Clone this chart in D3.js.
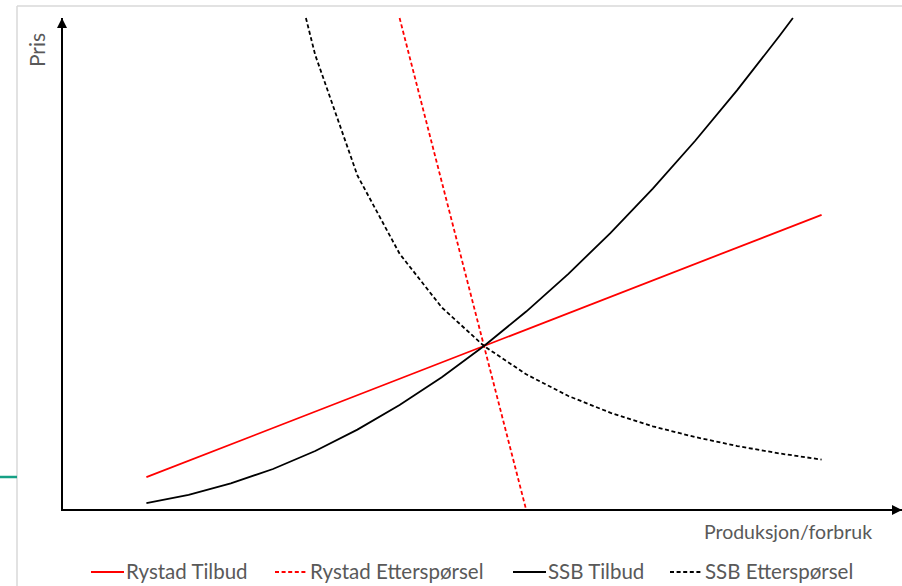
<!DOCTYPE html>
<html>
<head>
<meta charset="utf-8">
<script src="https://cdn.jsdelivr.net/npm/d3@7"></script>
<style>
  html, body { margin: 0; padding: 0; background: #fff; }
  svg { display: block; }
  text { font-family: Lato, "Open Sans", sans-serif; fill: #595959; }
</style>
</head>
<body>
<svg id="chart" width="902" height="586"></svg>
<script>
// Quantity (x) and price (y) in arbitrary units
const rystadSupplyX = [2, 18];
const rystadSupplyY = [8, 72];

const rystadDemandX = [8, 11];
const rystadDemandY = [120, 0];

const ssbSupplyX = [2, 3, 4, 5, 6, 7, 8, 9, 10, 11, 12, 13, 14, 15, 16, 17, 17.32];
const ssbSupplyY = [1.7, 3.7, 6.5, 10, 14.4, 19.6, 25.6, 32.4, 40, 48.4, 57.6, 67.6, 78.4, 90, 102.4, 115.6, 120];

const ssbDemandX = [5.78, 6, 7, 8, 9, 10, 11, 12, 13, 14, 15, 16, 17, 18];
const ssbDemandY = [120, 111, 81.6, 62.5, 49.4, 40, 33.1, 27.8, 23.7, 20.4, 17.8, 15.6, 13.8, 12.3];

const seriesNames = ["Rystad Tilbud", "Rystad Etterspørsel", "SSB Tilbud", "SSB Etterspørsel"];
const axisLabels = { x: "Produksjon/forbruk", y: "Pris" };

const svg = d3.select("#chart");

const x = d3.scaleLinear().domain([0, 20]).range([62, 906]);
const y = d3.scaleLinear().domain([0, 120]).range([510, 18]);

// Slide frame
svg.append("line").attr("x1", 17).attr("x2", 902).attr("y1", 6).attr("y2", 6)
  .attr("stroke", "#d9d9d9").attr("stroke-width", 1.5);
svg.append("line").attr("x1", 17).attr("x2", 17).attr("y1", 6).attr("y2", 586)
  .attr("stroke", "#d9d9d9").attr("stroke-width", 1.5);
svg.append("line").attr("x1", 0).attr("x2", 17).attr("y1", 477).attr("y2", 477)
  .attr("stroke", "#16a085").attr("stroke-width", 2.5);

// Arrow marker
svg.append("defs").append("marker")
  .attr("id", "arrow")
  .attr("viewBox", "0 0 10 10")
  .attr("refX", 10).attr("refY", 5)
  .attr("markerWidth", 5).attr("markerHeight", 5)
  .attr("markerUnits", "strokeWidth")
  .attr("orient", "auto")
  .append("path").attr("d", "M0,0 L10,5 L0,10 Z").attr("fill", "#000");

// Axes
svg.append("line")
  .attr("x1", x(0)).attr("y1", y(0)).attr("x2", x(0)).attr("y2", 18)
  .attr("stroke", "#000").attr("stroke-width", 2).attr("marker-end", "url(#arrow)");
svg.append("line")
  .attr("x1", x(0) - 1).attr("y1", y(0)).attr("x2", 902).attr("y2", y(0))
  .attr("stroke", "#000").attr("stroke-width", 2).attr("marker-end", "url(#arrow)");

svg.append("text")
  .attr("transform", `translate(45,50) rotate(-90)`)
  .attr("text-anchor", "middle")
  .attr("font-size", 21)
  .text(axisLabels.y);

svg.append("text")
  .attr("x", 788).attr("y", 539)
  .attr("text-anchor", "middle")
  .attr("font-size", 19.5)
  .text(axisLabels.x);

// Curves
const line = d3.line().x(d => x(d[0])).y(d => y(d[1]));
const series = [
  { name: seriesNames[0], xs: rystadSupplyX, ys: rystadSupplyY, color: "#ff0000", dash: null },
  { name: seriesNames[1], xs: rystadDemandX, ys: rystadDemandY, color: "#ff0000", dash: "4,2.6" },
  { name: seriesNames[2], xs: ssbSupplyX, ys: ssbSupplyY, color: "#000000", dash: null },
  { name: seriesNames[3], xs: ssbDemandX, ys: ssbDemandY, color: "#000000", dash: "4,2.6" }
];

svg.append("g").selectAll("path")
  .data(series)
  .join("path")
  .attr("d", s => line(s.xs.map((v, i) => [v, s.ys[i]])))
  .attr("fill", "none")
  .attr("stroke", s => s.color)
  .attr("stroke-width", 1.8)
  .attr("stroke-dasharray", s => s.dash);

// Legend
const legendX = [91, 275, 513, 670];
const legend = svg.append("g").selectAll("g")
  .data(series)
  .join("g")
  .attr("transform", (s, i) => `translate(${legendX[i]},572)`);
legend.append("line")
  .attr("x1", 0).attr("x2", 33).attr("y1", 0).attr("y2", 0)
  .attr("stroke", s => s.color).attr("stroke-width", 1.8)
  .attr("stroke-dasharray", s => s.dash);
legend.append("text")
  .attr("x", 35).attr("y", 7)
  .attr("font-size", 20.5)
  .text(s => s.name);
</script>
</body>
</html>
